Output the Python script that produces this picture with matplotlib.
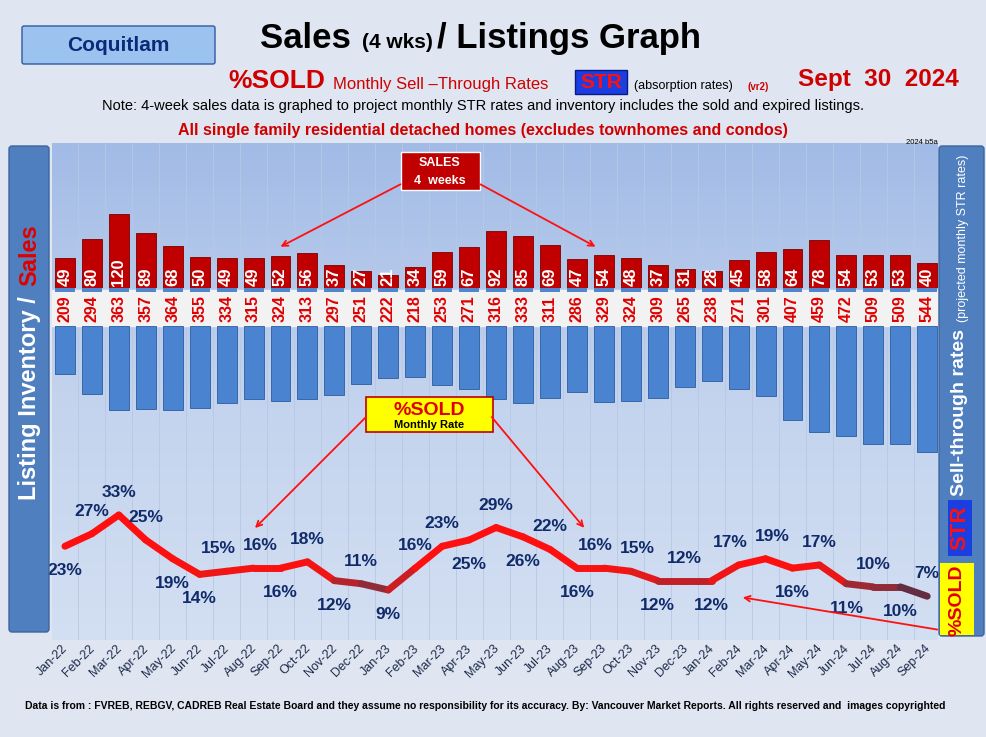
import matplotlib
matplotlib.use("Agg")
import matplotlib.pyplot as plt
import numpy as np
from matplotlib.patches import FancyBboxPatch, Rectangle
from matplotlib.collections import LineCollection
import matplotlib.colors as mcolors

plt.rcParams["font.family"] = "Liberation Sans"

months = ["Jan-22","Feb-22","Mar-22","Apr-22","May-22","Jun-22","Jul-22","Aug-22","Sep-22","Oct-22","Nov-22","Dec-22",
          "Jan-23","Feb-23","Mar-23","Apr-23","May-23","Jun-23","Jul-23","Aug-23","Sep-23","Oct-23","Nov-23","Dec-23",
          "Jan-24","Feb-24","Mar-24","Apr-24","May-24","Jun-24","Jul-24","Aug-24","Sep-24"]
sales = [49,80,120,89,68,50,49,49,52,56,37,27,21,34,59,67,92,85,69,47,54,48,37,31,28,45,58,64,78,54,53,53,40]
inventory = [209,294,363,357,364,355,334,315,324,313,297,251,222,218,253,271,316,333,311,286,329,324,309,265,238,271,301,407,459,472,509,509,544]
pct_sold = [23,27,33,25,19,14,15,16,16,18,12,11,9,16,23,25,29,26,22,16,16,15,12,12,12,17,19,16,17,11,10,10,7]
label_side = ["b","a","a","a","b","b","a","a","b","a","b","a","b","a","a","b","a","b","a","b","a","a","b","a",
              "b","a","a","b","a","b","a","b","a"]

W, H = 987, 737
fig = plt.figure(figsize=(W/100, H/100), dpi=100)
fig.patch.set_facecolor("#dfe6f1")

def ax_px(x0, y0, x1, y1, **kw):
    return fig.add_axes([x0/W, 1-y1/H, (x1-x0)/W, (y1-y0)/H], **kw)

X0, X1 = 52, 938
bg = ax_px(X0, 143, X1, 640)
grad = np.linspace(0, 1, 256)[:, None]
cmap_bg = mcolors.LinearSegmentedColormap.from_list("bg", ["#a2bbe6", "#c3d3ee", "#d3dff2"])
bg.imshow(grad, aspect="auto", cmap=cmap_bg, extent=[0, 1, 0, 1])
bg.set_xlim(0, 1); bg.set_ylim(0, 1)
bg.axis("off")
bg.add_patch(Rectangle((0, (640-326)/497), 1, 36/497, color="#f2f2f2", zorder=2))

xl = (-0.48, 32.4)
x = np.arange(len(months))
for k in range(34):
    bg.axvline((k - 0.5 - xl[0]) / (xl[1] - xl[0]), color="#b8c8e4", lw=0.6, zorder=1)

axs = ax_px(X0, 150, X1, 288)
axs.set_xlim(*xl); axs.set_ylim(0, 138/0.617)
axs.bar(x, sales, width=0.74, color="#c00000", edgecolor="#7a0000", lw=0.6)
for i, v in enumerate(sales):
    axs.text(i, 3, str(v), rotation=90, ha="center", va="bottom", color="white",
             fontsize=12, fontweight="bold")
axs.axis("off")

axb = ax_px(X0, 288, X1, 292)
axb.set_xlim(*xl); axb.set_ylim(0, 1)
axb.bar(x, [1]*len(x), width=0.74, color="#4f86cc")
axb.axis("off")

axl = ax_px(X0, 292, X1, 326)
axl.set_xlim(*xl); axl.set_ylim(0, 1)
for i, v in enumerate(inventory):
    axl.text(i, 0.5, str(v), rotation=90, ha="center", va="center", color="#e00000",
             fontsize=11.5, fontweight="bold")
axl.axis("off")

axi = ax_px(X0, 326, X1, 460)
axi.set_xlim(*xl); axi.set_ylim(134/0.232, 0)
axi.bar(x, inventory, width=0.74, color="#4a84d0", edgecolor="#2c5d9f", lw=0.6)
axi.axis("off")

axp = ax_px(X0, 480, X1, 620)
axp.set_xlim(*xl); axp.set_ylim(-0.6, 44.2)
cm = mcolors.LinearSegmentedColormap.from_list("ln", ["#383050", "#9a2a35", "#e81818", "#ff1010"])
pts = np.column_stack([x, pct_sold])
segs = [pts[i:i+2] for i in range(len(pts)-1)]
vals = [(pct_sold[i]+pct_sold[i+1])/2 for i in range(len(pts)-1)]
lc = LineCollection(segs, colors=[cm(np.clip((v-7)/10, 0, 1)) for v in vals], linewidths=5, capstyle="round", joinstyle="round")
axp.add_collection(lc)
n = len(pct_sold)
for i, v in enumerate(pct_sold):
    above = label_side[i] == "a"
    off = 7.2 if above else -7.8
    dx = 0.0
    if above and i + 1 < n and label_side[i+1] == "a" and abs(pct_sold[i+1] - v) <= 2:
        dx = -0.3
    elif above and i > 0 and label_side[i-1] == "a" and abs(pct_sold[i-1] - v) <= 2:
        dx = 0.25
    axp.text(i + dx, v + off, f"{v}%", ha="center", va="center", color="#102a6a", fontsize=12.5, fontweight="bold")
axp.axis("off")

axt = ax_px(X0, 640, X1, 690)
axt.set_xlim(*xl); axt.set_ylim(0, 1)
for i, m in enumerate(months):
    axt.text(i+0.2, 0.95, m, rotation=45, ha="right", va="top", fontsize=9, color="#1c2a4a")
axt.axis("off")

ov = fig.add_axes([0, 0, 1, 1]); ov.set_xlim(0, W); ov.set_ylim(H, 0); ov.axis("off")

ov.add_patch(FancyBboxPatch((9, 146), 40, 486, boxstyle="round,pad=0,rounding_size=3", fc="#4f7fbf", ec="#3a659e", lw=1))
ov.text(30, 500, "Listing Inventory /", rotation=90, ha="center", va="bottom", color="white", fontsize=17, fontweight="bold")
ov.text(30, 286, "Sales", rotation=90, ha="center", va="bottom", color="#e00000", fontsize=17, fontweight="bold")
ov.add_patch(FancyBboxPatch((939, 146), 45, 490, boxstyle="round,pad=0,rounding_size=3", fc="#4f7fbf", ec="#3a659e", lw=1))
ov.text(963, 238, "(projected monthly STR rates)", rotation=90, ha="center", va="center", color="white", fontsize=9)
ov.text(960, 412, "Sell-through rates", rotation=90, ha="center", va="center", color="white", fontsize=14, fontweight="bold")
ov.add_patch(Rectangle((948, 500), 24, 56, fc="#1a3ee0"))
ov.text(960, 528, "STR", rotation=90, ha="center", va="center", color="#ff1010", fontsize=16, fontweight="bold")
ov.add_patch(Rectangle((940, 563), 34, 72, fc="#ffff00"))
ov.text(957, 600, "%SOLD", rotation=90, ha="center", va="center", color="#e00000", fontsize=14, fontweight="bold")

ov.add_patch(Rectangle((401, 152), 79, 38, fc="#c00000", ec="#ffffff", lw=1))
ov.text(440, 163, "SALES", ha="center", va="center", color="white", fontsize=9, fontweight="bold")
ov.text(440, 181, "4  weeks", ha="center", va="center", color="white", fontsize=9, fontweight="bold")
for tx, ty, sx, sy in [(278, 248, 403, 183), (598, 248, 478, 183)]:
    ov.annotate("", xy=(tx, ty), xytext=(sx, sy), arrowprops=dict(arrowstyle="->", color="#ff1010", lw=1.3))
ov.add_patch(Rectangle((366, 397), 127, 35, fc="#ffff00", ec="#c00000", lw=1.2))
ov.text(429, 410, "%SOLD", ha="center", va="center", color="#e00000", fontsize=14, fontweight="bold")
ov.text(429, 425, "Monthly Rate", ha="center", va="center", color="black", fontsize=8, fontweight="bold")
for tx, ty, sx, sy in [(253, 530, 368, 415), (586, 530, 490, 415)]:
    ov.annotate("", xy=(tx, ty), xytext=(sx, sy), arrowprops=dict(arrowstyle="->", color="#ff1010", lw=1.3))
ov.annotate("", xy=(740, 597), xytext=(940, 630), arrowprops=dict(arrowstyle="->", color="#ff1010", lw=1.3))

ov.add_patch(FancyBboxPatch((22, 26), 193, 38, boxstyle="round,pad=0,rounding_size=2", fc="#9cc3f0", ec="#2f5aa0", lw=1))
ov.text(118, 45, "Coquitlam", ha="center", va="center", color="#0c2a7a", fontsize=15, fontweight="bold")
ov.text(260, 38, "Sales", ha="left", va="center", fontsize=25, fontweight="bold")
ov.text(362, 42, "(4 wks)", ha="left", va="center", fontsize=15, fontweight="bold")
ov.text(437, 38, "/ Listings Graph", ha="left", va="center", fontsize=25, fontweight="bold")
ov.text(228, 81, "%SOLD", ha="left", va="center", color="#d00000", fontsize=19, fontweight="bold")
ov.text(333, 84, "Monthly Sell –Through Rates", ha="left", va="center", color="#d00000", fontsize=12)
ov.add_patch(Rectangle((575, 70), 52, 24, fc="#1a3ee0", ec="#0a1a80"))
ov.text(601, 82, "STR", ha="center", va="center", color="#ff1010", fontsize=15, fontweight="bold")
ov.text(634, 86, "(absorption rates)", ha="left", va="center", color="black", fontsize=9)
ov.text(747, 87, "(vr2)", ha="left", va="center", color="#d00000", fontsize=7, fontweight="bold")
ov.text(798, 79, "Sept  30  2024", ha="left", va="center", color="#d00000", fontsize=17.5, fontweight="bold")
ov.text(483, 106, "Note: 4-week sales data is graphed to project monthly STR rates and inventory includes the sold and expired listings.",
        ha="center", va="center", fontsize=10.5)
ov.text(483, 130, "All single family residential detached homes (excludes townhomes and condos)", ha="center", va="center",
        color="#d00000", fontsize=11.5, fontweight="bold")
ov.text(922, 142, "2024 b5a", ha="center", va="center", fontsize=5.5)
ov.text(485, 706, "Data is from : FVREB, REBGV, CADREB Real Estate Board and they assume no responsibility for its accuracy. By: Vancouver Market Reports. All rights reserved and  images copyrighted",
        ha="center", va="center", fontsize=7.5, fontweight="bold")

fig.savefig("out.png", dpi=100, facecolor=fig.get_facecolor())
